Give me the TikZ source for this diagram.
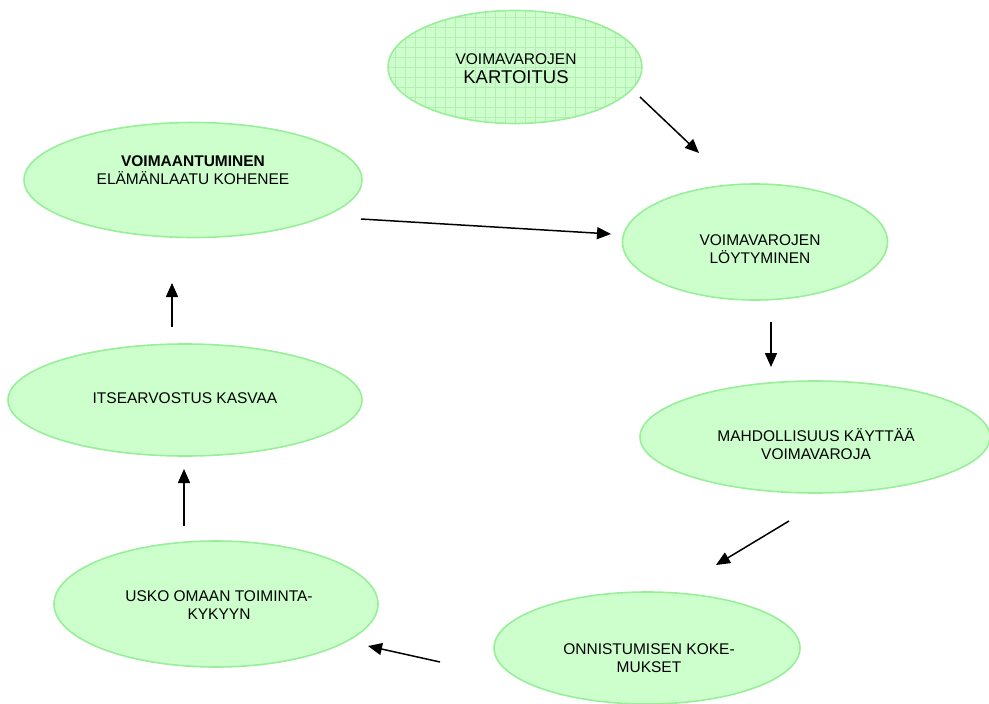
\documentclass[tikz,border=0pt]{standalone}
\usepackage{fontspec}
\setmainfont{Liberation Sans}
\usetikzlibrary{shapes.geometric,arrows.meta}
\definecolor{ellfill}{HTML}{CCFFCC}
\definecolor{elldraw}{HTML}{99EE99}
\definecolor{gridc}{HTML}{B5EDB5}
\tikzset{
  bubble/.style={ellipse, draw=elldraw, fill=ellfill, line width=1.6pt, inner sep=0pt,
    align=center, font=\fontsize{15.5}{18}\selectfont, text=black},
  gridbubble/.style={bubble, path picture={\draw[gridc, line width=0.6pt, step=10pt]
    ([xshift=-5pt,yshift=-5pt]path picture bounding box.south west) grid ([xshift=5pt,yshift=5pt]path picture bounding box.north east);}},
  flow/.style={line width=1.5pt, -{Triangle[length=14pt,width=12pt]}},
  lbl/.style={align=center, font=\fontsize{15.5}{18}\selectfont, text=black, inner sep=0pt}
}
\begin{document}
\begin{tikzpicture}[x=1pt,y=-1pt]
\useasboundingbox (0,0) rectangle (989,704);
\clip (0,0) rectangle (989,704);
\node[gridbubble, minimum width=254pt, minimum height=113pt] (kart) at (515,67) {};
\node[lbl] (kartt) at (516,69) {VOIMAVAROJEN\\[1pt]{\fontsize{18.5}{20}\selectfont KARTOITUS}};
\node[bubble, minimum width=338pt, minimum height=115pt] (voim) at (193,180) {};
\node[lbl] (voimt) at (193,170) {\textbf{VOIMAANTUMINEN}\\ELÄMÄNLAATU KOHENEE};
\node[bubble, minimum width=265pt, minimum height=116pt] (loyt) at (755,242) {};
\node[lbl] (loytt) at (760,249) {VOIMAVAROJEN\\LÖYTYMINEN};
\node[bubble, minimum width=350pt, minimum height=112pt] (mahd) at (815,437) {};
\node[lbl] (mahdt) at (816,444) {MAHDOLLISUUS KÄYTTÄÄ\\VOIMAVAROJA};
\node[bubble, minimum width=306pt, minimum height=112pt] (onni) at (647,648) {};
\node[lbl] (onnit) at (649,658) {ONNISTUMISEN KOKE-\\MUKSET};
\node[bubble, minimum width=324pt, minimum height=126pt] (usko) at (216,604) {};
\node[lbl] (uskot) at (219,605) {USKO OMAAN TOIMINTA-\\KYKYYN};
\node[bubble, minimum width=354pt, minimum height=112pt] (itse) at (185,400) {};
\node[lbl] (itset) at (185,398) {ITSEARVOSTUS KASVAA};
\coordinate (a1s) at (640,97);  \coordinate (a1e) at (699,153);
\coordinate (a2s) at (361,219); \coordinate (a2e) at (611,234);
\coordinate (a3s) at (771,322); \coordinate (a3e) at (771,367);
\coordinate (a4s) at (789,521); \coordinate (a4e) at (716,565);
\coordinate (a5s) at (440,662); \coordinate (a5e) at (368,646);
\coordinate (a6s) at (184,526); \coordinate (a6e) at (184,469);
\coordinate (a7s) at (172,327); \coordinate (a7e) at (172,283);
\draw[flow] (a1s) -- (a1e);
\draw[flow] (a2s) -- (a2e);
\draw[flow] (a3s) -- (a3e);
\draw[flow] (a4s) -- (a4e);
\draw[flow] (a5s) -- (a5e);
\draw[flow] (a6s) -- (a6e);
\draw[flow] (a7s) -- (a7e);
\end{tikzpicture}
\end{document}
